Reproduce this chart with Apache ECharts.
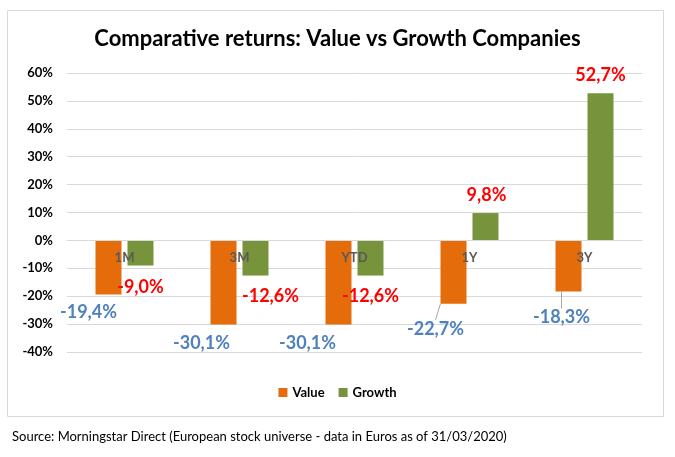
<!DOCTYPE html>
<html><head><meta charset="utf-8">
<script src="https://cdn.jsdelivr.net/npm/echarts@6/dist/echarts.min.js"></script>
<style>html,body{margin:0;padding:0;background:#fff}#c{width:675px;height:457px}</style>
</head><body><div id="c"></div>
<script>
const categories = ['1M', '3M', 'YTD', '1Y', '3Y'];
const valueReturns = [-19.4, -30.1, -30.1, -22.7, -18.3];
const growthReturns = [-9.0, -12.6, -12.6, 9.8, 52.7];
const yTicks = { min: -40, max: 60, step: 10 };

// label placement (pixels, relative to bar end)
const valueLabelDx = [-20, -22, -31, -18, -7];
const valueLabelDy = [18, 19, 19, 25, 26];
const valueLeader = [false, false, false, true, true];
const growthLabelDx = [0, 15, 0, 1, 0];
const growthLabelDy = [22, 21, 21, -18, -18];

const FONT = 'Lato';
const fmt = v => (v < 0 ? '-' : '') + Math.abs(v).toFixed(1).replace('.', ',') + '%';

function layoutFor(dxs, dys) {
  return function (p) {
    const r = p.rect;
    const i = p.dataIndex;
    const neg = dys[i] > 0;
    return {
      x: r.x + r.width / 2 + dxs[i],
      y: (neg ? r.y + r.height : r.y) + dys[i],
      align: 'center',
      verticalAlign: 'middle'
    };
  };
}

const gridTop = 73, gridBottom = 105, chartH = 457;
// distance of the zero line above the grid bottom, derived from the axis range
const zeroOffset = (chartH - gridTop - gridBottom) * (0 - yTicks.min) / (yTicks.max - yTicks.min);

const chart = echarts.init(document.getElementById('c'));
chart.setOption({
  animation: false,
  textStyle: { fontFamily: FONT },
  title: {
    text: 'Comparative returns: Value vs Growth Companies',
    left: 'center', top: 23,
    textStyle: { fontFamily: FONT, fontWeight: 'bold', fontSize: 22, color: '#000' }
  },
  graphic: [
    { type: 'rect', shape: { x: 7.5, y: 10.5, width: 656, height: 406 },
      style: { fill: 'none', stroke: '#D9D9D9', lineWidth: 1 }, z: -1 },
    { type: 'text', left: 12, top: 430,
      style: { text: 'Source: Morningstar Direct (European stock universe - data in Euros as of 31/03/2020)',
               fontFamily: FONT, fontSize: 13, fill: '#000' } }
  ],
  legend: {
    bottom: 53, left: 'center',
    itemWidth: 9, itemHeight: 9, itemGap: 14,
    icon: 'rect',
    textStyle: { fontFamily: FONT, fontWeight: 'bold', fontSize: 13, color: '#000' },
    data: ['Value', 'Growth']
  },
  grid: { left: 67, right: 33, top: gridTop, bottom: gridBottom },
  xAxis: {
    type: 'category', data: categories, z: 10,
    offset: -zeroOffset,
    axisLine: { onZero: false, lineStyle: { color: '#D9D9D9' } },
    axisTick: { show: false },
    axisLabel: { margin: 11, color: '#595959', fontWeight: 'bold', fontSize: 13, fontFamily: FONT }
  },
  yAxis: {
    type: 'value', min: yTicks.min, max: yTicks.max, interval: yTicks.step,
    axisLine: { show: false }, axisTick: { show: false },
    axisLabel: { formatter: '{value}%', margin: 14, color: '#000', fontSize: 13, fontWeight: 'bold', fontFamily: FONT },
    splitLine: { lineStyle: { color: '#D9D9D9' } }
  },
  series: [
    {
      name: 'Value', type: 'bar', barWidth: 26, barGap: '23%',
      itemStyle: { color: '#E46C0A' },
      data: valueReturns.map((v, i) => ({
        value: v,
        labelLine: { show: valueLeader[i] }
      })),
      label: {
        show: true, position: 'inside',
        formatter: p => fmt(p.value),
        color: '#4F81BD', fontWeight: 'bold', fontSize: 18, fontFamily: FONT
      },
      labelLine: { lineStyle: { color: '#A6A6A6', width: 1 } },
      labelLayout: layoutFor(valueLabelDx, valueLabelDy)
    },
    {
      name: 'Growth', type: 'bar', barWidth: 26,
      itemStyle: { color: '#77933C' },
      data: growthReturns,
      label: {
        show: true, position: 'inside',
        formatter: p => fmt(p.value),
        color: '#FF0000', fontWeight: 'bold', fontSize: 18, fontFamily: FONT
      },
      labelLayout: layoutFor(growthLabelDx, growthLabelDy)
    }
  ]
});
</script></body></html>
